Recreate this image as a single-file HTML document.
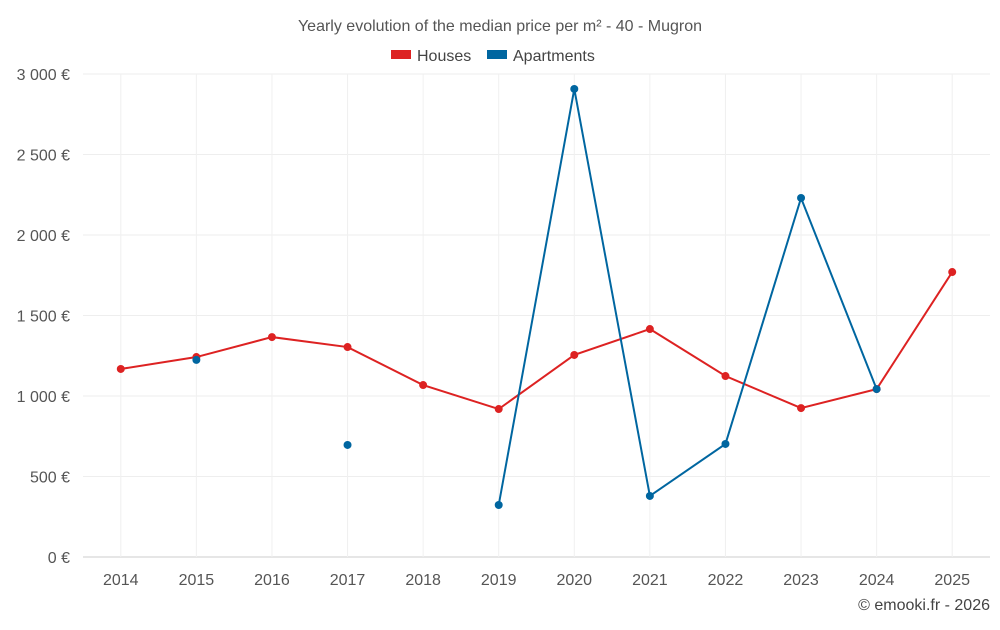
<!DOCTYPE html>
<html><head><meta charset="utf-8"><style>
body{margin:0;background:#fff;font-family:"Liberation Sans",Roboto,sans-serif;}
svg text{font-family:"Liberation Sans",sans-serif;}
</style></head><body>
<svg id="chart" width="1000" height="625">
<text x="500" y="31" text-anchor="middle" font-size="16" fill="#555">Yearly evolution of the median price per m² - 40 - Mugron</text>
<g><rect x="391" y="50" width="20" height="9" fill="#dd2222"/><text x="417" y="61" font-size="16" fill="#444">Houses</text></g>
<g><rect x="487" y="50" width="20" height="9" fill="#0066a0"/><text x="513" y="61" font-size="16" fill="#444">Apartments</text></g>
<g id="grid"></g><g id="marks"></g>
<text x="990" y="610" text-anchor="end" font-size="16" fill="#444">© emooki.fr - 2026</text>
</svg>
<script>
const years=[2014,2015,2016,2017,2018,2019,2020,2021,2022,2023,2024,2025];
const houses=[1168,1242,1366,1304,1068,919,1255,1416,1124,925,1043,1770];
const apartments=[null,1224,null,696,null,323,2907,379,702,2230,1043,null];
const yTicks=[0,500,1000,1500,2000,2500,3000];
const yLabels=["0 €","500 €","1 000 €","1 500 €","2 000 €","2 500 €","3 000 €"];
const NS="http://www.w3.org/2000/svg";
const L=83,R=990,T=74,B=557;
const step=(R-L)/years.length;
const x=i=>L+step*(i+0.5);
const y=v=>B-(v/3000)*(B-T);
function mk(tag,attrs,parent){const e=document.createElementNS(NS,tag);for(const k in attrs)e.setAttribute(k,attrs[k]);parent.appendChild(e);return e;}
const grid=document.getElementById('grid'),marks=document.getElementById('marks');
yTicks.forEach((t,i)=>{
 const ln=mk('line',{x1:L,x2:R,y1:y(t),y2:y(t),stroke:i===0?'#ccc':'#eee'},grid);
 
 
 const tx=mk('text',{x:70,y:y(t)+6,'text-anchor':'end','font-size':16,fill:'#555'},grid);
 tx.textContent=yLabels[i];
 
 
});
years.forEach((yr,i)=>{
 const ln=mk('line',{x1:x(i),x2:x(i),y1:T,y2:B,stroke:'#f0f0f0'},grid);
 
 
 const tx=mk('text',{x:x(i),y:585,'text-anchor':'middle','font-size':16,fill:'#555'},grid);
 tx.textContent=yr;
 
 
});
function series(data,color,name){
 let segs=[],cur=[];
 data.forEach((v,i)=>{if(v==null){if(cur.length)segs.push(cur);cur=[];}else cur.push([x(i),y(v)]);});
 if(cur.length)segs.push(cur);
 segs.forEach(s=>{if(s.length>1){
  const p=mk('polyline',{points:s.map(q=>q.join(',')).join(' '),fill:'none',stroke:color,'stroke-width':2},marks);
  
  
 }});
 data.forEach((v,i)=>{if(v==null)return;
  const c=mk('circle',{cx:x(i),cy:y(v),r:4,fill:color},marks);
  
  
 });
}
series(houses,'#dd2222','houses');
series(apartments,'#0066a0','apartments');
</script>
</body></html>
